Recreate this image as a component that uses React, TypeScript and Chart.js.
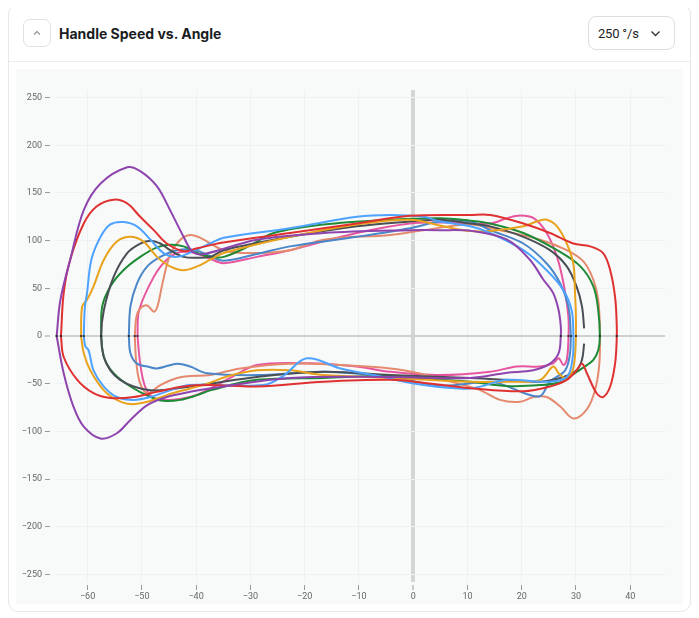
import React, { useEffect, useRef } from 'react';
import Chart from 'chart.js/auto';

type Pt = [number, number];

// tick values shown on the axes
const xTicks = [-60, -50, -40, -30, -20, -10, 0, 10, 20, 30, 40];
const yTicks = [-250, -200, -150, -100, -50, 0, 50, 100, 150, 200, 250];

// angle (deg) vs handle speed (deg/s), one loop per swing
const purple: Pt[] = [
  [-65.7, 0], [-65.0, 38], [-63.2, 80], [-60.7, 132], [-57.6, 160], [-52.7, 177], [-50.3, 173],
  [-47.2, 157], [-44.8, 132], [-42.3, 104], [-40.6, 88], [-38.5, 86], [-28.8, 101], [-16.5, 108],
  [-0.6, 111], [5, 111], [11, 110], [17.3, 101], [21.5, 80], [24, 59], [25.8, 45], [26.8, 27],
  [27.2, 10], [27.2, 0], [26.8, -18], [25.2, -29], [22.1, -36], [17.3, -38.5], [10.5, -44],
  [-4.2, -43], [-22.7, -44], [-37.4, -55], [-41.1, -58.5], [-45.4, -64], [-49, -72.5],
  [-52.1, -88], [-54.6, -102], [-57.6, -107.5], [-60.7, -95], [-62.6, -74], [-64.4, -39], [-65.7, 0],
];

const red: Pt[] = [
  [-64.9, 0], [-64.4, 45], [-63.2, 80], [-60.7, 118], [-58.3, 136], [-55.2, 143], [-52.7, 139],
  [-50.3, 125], [-47.8, 111], [-45.4, 97], [-42.3, 89], [-39.8, 92], [-35, 98], [-22.7, 108],
  [-10.4, 118], [-0.6, 126], [10.5, 127], [14.2, 127], [20.3, 118], [25.2, 108], [29.5, 97],
  [32.6, 94], [35, 87], [36.3, 69], [37.2, 41], [37.5, 13], [37.5, -4], [37.2, -29], [36.3, -53],
  [35, -64], [33.8, -60], [32, -39], [31.1, -29], [30.1, -36], [28.3, -46], [25.2, -53],
  [20.3, -58], [11.1, -55], [1.8, -49], [-4.2, -46], [-16.5, -48], [-28.8, -53], [-37.4, -51.5],
  [-42.3, -53], [-47.2, -58.5], [-51.5, -64], [-55.8, -65], [-58.9, -60], [-61.9, -46],
  [-64.4, -22], [-64.9, 0],
];

const blue: Pt[] = [
  [-60.7, 0], [-60.5, 30], [-60.1, 45], [-59.3, 80], [-57.6, 104], [-55.8, 117], [-53.4, 119.5], [-50.9, 115],
  [-48.4, 101], [-46, 87], [-43.5, 83], [-40.5, 89], [-37.4, 97], [-34.9, 103], [-22.7, 113],
  [-10.4, 125], [-4.2, 127], [1.9, 125], [5, 120], [10.5, 115], [14.2, 108], [20.3, 90],
  [24.6, 69], [27.7, 48], [29.2, 27], [29.5, 3], [29.4, -22], [28.3, -43], [24.6, -48],
  [17.3, -46], [10.5, -55], [1.9, -51.5], [-7.3, -41], [-13.4, -34], [-19.6, -23.4], [-24, -42],
  [-27.6, -51.5], [-41.1, -51.5], [-44.8, -57], [-48.4, -64], [-51.5, -67], [-54.6, -64],
  [-57, -53], [-58.9, -36], [-59.8, -15], [-60.4, -11], [-60.7, 0],
];

const orange: Pt[] = [
  [-61.2, 0], [-61, 31], [-60.1, 38], [-58.9, 52], [-57, 80], [-54.6, 99], [-52.1, 104],
  [-49.7, 99], [-47.2, 83], [-44.8, 73], [-42.3, 69], [-39.8, 73], [-37.4, 80], [-34.9, 87],
  [-22.7, 104], [-10.4, 117], [-0.6, 122], [5.6, 115], [10.5, 110], [14.2, 110], [20.3, 115],
  [22.8, 120], [24.6, 122], [26.5, 115], [28.3, 97], [29.5, 76], [29.8, 48], [30, 13],
  [29.8, -22], [29.2, -39], [28, -44], [26.8, -39], [25.8, -32], [23.4, -46], [17.3, -48],
  [10.5, -48], [-4.2, -44], [-16.5, -41], [-22.7, -36], [-28.8, -36], [-34, -42], [-38, -50],
  [-41.1, -55], [-45.4, -62], [-49, -69], [-52.1, -71.4], [-54.6, -67], [-57, -57], [-59.5, -36],
  [-60.7, -18], [-61.2, 0],
];

const grey: Pt[] = [
  [31.5, -8], [31.1, -25], [30.1, -36], [27.7, -43], [23.4, -48], [17.3, -46], [10.5, -44],
  [-4.2, -41], [-16.5, -37.5], [-28.8, -43], [-37.4, -50], [-41.1, -53], [-44.8, -56],
  [-48.4, -57], [-51.5, -53], [-54, -46], [-55.8, -36], [-57, -22], [-57.5, 0], [-57, 27],
  [-55.2, 62], [-52.7, 87], [-50.3, 97], [-48.4, 100], [-46.6, 97], [-44.8, 90], [-42.3, 83],
  [-39.8, 82], [-37.4, 83], [-34.9, 90], [-22.7, 104], [-10.4, 115], [-0.6, 120], [5, 122],
  [10.5, 118], [14.2, 115], [20.3, 104], [25.2, 90], [28.3, 73], [30.1, 52], [31.1, 31], [31.5, 8],
];

const green: Pt[] = [
  [-57.5, 0], [-57.3, 31], [-55.8, 52], [-53.4, 69], [-50.3, 83], [-47.2, 93], [-44.8, 95.6],
  [-42.3, 94], [-39.8, 87], [-37.4, 83], [-34.9, 83], [-30, 95], [-25.7, 108], [-16.5, 117],
  [-4.2, 122], [5, 123.6], [10.5, 121], [14.2, 118], [20.3, 108], [26.5, 90], [30.8, 73],
  [33.2, 52], [34.1, 27], [34.4, 0], [34.1, -15], [33.2, -25], [32, -30.5], [29.5, -40],
  [27.5, -48], [23.4, -51.5], [17.3, -52.5], [10.5, -48], [5, -46], [-4.2, -42], [-16.5, -44],
  [-28.8, -46], [-37.4, -57], [-39.8, -62], [-42.9, -67], [-46, -68], [-48.4, -64], [-52.1, -53],
  [-55.2, -39], [-57, -22], [-57.5, 0],
];

const steel: Pt[] = [
  [-52.4, 0], [-52.1, 31], [-50.9, 55], [-49, 73], [-46.6, 83], [-43.5, 90], [-40.1, 90],
  [-37.5, 84], [-34.9, 79], [-28.8, 86], [-22.7, 94], [-10.4, 104], [-0.6, 113], [5, 120],
  [10.5, 120], [14.2, 111], [20.3, 97], [24.6, 76], [27.1, 55], [28.6, 31], [29, 6], [28.9, -18],
  [28, -36], [25.2, -48], [23.4, -63], [20.5, -60], [17, -52], [14.2, -48], [5, -52], [-4.2, -43],
  [-16.5, -37.5], [-28.8, -41], [-38, -39], [-41.1, -32], [-43.5, -29], [-47.2, -34], [-49, -32],
  [-50.9, -29], [-52.1, -18], [-52.4, 0],
];

const salmon: Pt[] = [
  [-51.3, 0], [-51, 20], [-50.3, 29], [-49, 32], [-47.8, 25.5], [-47.1, 31.5], [-46.2, 55],
  [-44.8, 85], [-42.9, 101], [-41.1, 106], [-39.2, 103], [-34.9, 90], [-30, 87], [-22.7, 90],
  [-16.5, 101], [-4.2, 106], [1.9, 111], [10.5, 117], [16, 111], [23.4, 101], [28.3, 90],
  [31.4, 78], [33.2, 59], [34.1, 38], [34.4, 6], [34.3, -29], [33.5, -57], [32, -77],
  [29.5, -86.5], [27.1, -74], [24.6, -64], [22.2, -64], [19.7, -69], [16, -67], [12, -56],
  [5, -45], [1.9, -40], [-4.2, -34], [-13.4, -30.5], [-22.7, -29], [-31.9, -34], [-37.4, -41],
  [-41.1, -42], [-43.5, -44], [-46.6, -51.5], [-49, -60], [-50.3, -50], [-51, -29], [-51.3, 0],
];

const pink: Pt[] = [
  [-50.8, 0], [-50.5, 27], [-47.8, 62], [-45.4, 80], [-42.9, 88], [-40.1, 87], [-37.4, 81],
  [-34.9, 76.4], [-28.8, 83], [-22.7, 90], [-10.4, 108], [-0.6, 118], [5.6, 119], [14.2, 118],
  [17.3, 123.6], [19.7, 126.4], [22.2, 123.6], [24.6, 108], [26.5, 83], [27.7, 55], [28.6, 20],
  [28.6, -4], [28.3, -25], [27.7, -30.5], [26.8, -23.4], [25.8, -28.7], [23.4, -32], [19.1, -32],
  [14.2, -37.5], [5, -41], [-4.2, -37.5], [-10.4, -32], [-19.6, -28.7], [-28.8, -30.5],
  [-33.7, -44], [-38, -57], [-41.1, -64], [-44.8, -67], [-47.8, -65], [-49.4, -53], [-50.3, -29],
  [-50.8, 0],
];

// zero-speed crossings (black dots)
const zeroCrossX = [-65.7, -64.9, -61.2, -60.7, -57.5, -52.4, -51.3, -50.8, 27.2, 28.6, 29.1, 30.0, 34.4, 37.5];

const swings = [
  { color: '#8e44ad', points: purple },
  { color: '#e03131', points: red },
  { color: '#4da3ff', points: blue },
  { color: '#e8a21c', points: orange },
  { color: '#4a4f55', points: grey },
  { color: '#1f8a35', points: green },
  { color: '#4a86c8', points: steel },
  { color: '#e48a6e', points: salmon },
  { color: '#e8559f', points: pink },
];

const fmt = (v: number | string) => String(v).replace('-', '\u2212');

const SpeedChart: React.FC = () => {
  const canvasRef = useRef<HTMLCanvasElement>(null);

  useEffect(() => {
    if (!canvasRef.current) return;
    const chart = new Chart(canvasRef.current, {
      type: 'scatter',
      data: {
        datasets: [
          {
            data: zeroCrossX.map((x) => ({ x, y: 0 })),
            showLine: false,
            pointRadius: 1.1,
            pointBackgroundColor: '#222',
            pointBorderWidth: 0,
          },
          ...swings.map((s) => ({
            data: s.points.map(([x, y]) => ({ x, y })),
            showLine: true,
            borderColor: s.color,
            borderWidth: 2,
            pointRadius: 0,
            tension: 0.35,
            fill: false,
          })),
        ],
      },
      options: {
        animation: false,
        responsive: true,
        maintainAspectRatio: false,
        layout: { padding: { top: 21, right: 18, left: 0, bottom: 0 } },
        plugins: { legend: { display: false }, tooltip: { enabled: false } },
        scales: {
          x: {
            type: 'linear',
            min: -66,
            max: 46.4,
            afterBuildTicks: (s: any) => { s.ticks = xTicks.map((value) => ({ value })); },
            afterFit: (s: any) => { s.height = 22; },
            border: { display: false },
            grid: {
              color: (c: any) => (c.tick && c.tick.value === 0 ? '#d4d6d6' : '#eef1f1'),
              lineWidth: (c: any) => (c.tick && c.tick.value === 0 ? 4 : 1),
              tickColor: '#9a9a9a',
              tickWidth: 1,
              tickLength: 8,
              tickBorderDash: [5, 3],
              tickBorderDashOffset: 5,
            },
            ticks: {
              callback: (v: any) => fmt(v),
              font: { size: 9, family: 'Roboto' },
              color: '#666',
              padding: 1,
              maxRotation: 0,
              autoSkip: false,
            },
          },
          y: {
            type: 'linear',
            min: -258,
            max: 258,
            afterBuildTicks: (s: any) => { s.ticks = yTicks.map((value) => ({ value })); },
            afterFit: (s: any) => { s.width = 39; },
            border: { display: false },
            grid: {
              color: (c: any) => (c.tick && c.tick.value === 0 ? '#cfd1d1' : '#eef1f1'),
              lineWidth: (c: any) => (c.tick && c.tick.value === 0 ? 2 : 1),
              tickColor: '#9a9a9a',
              tickWidth: 1,
              tickLength: 10,
              tickBorderDash: [5, 5],
            },
            ticks: {
              callback: (v: any) => fmt(v),
              font: { size: 9, family: 'Roboto' },
              color: '#666',
              padding: 3,
              autoSkip: false,
            },
          },
        },
      },
    });
    return () => chart.destroy();
  }, []);

  return <canvas ref={canvasRef} />;
};

const ChevronUp = () => (
  <svg width="10" height="10" viewBox="0 0 10 10">
    <polyline points="2,6.5 5,3.5 8,6.5" fill="none" stroke="#8a8f94" strokeWidth="1.1" />
  </svg>
);

const ChevronDown = () => (
  <svg width="11" height="11" viewBox="0 0 11 11">
    <polyline points="1.5,3.5 5.5,7.5 9.5,3.5" fill="none" stroke="#333" strokeWidth="1.3" />
  </svg>
);

export default function App() {
  return (
    <div
      style={{
        marginTop: -4,
        width: 683,
        height: 608,
        boxSizing: 'border-box',
        border: '1px solid #e6e9e9',
        borderRadius: 10,
        background: '#fff',
        fontFamily: 'Inter, "Noto Sans", sans-serif',
      }}
    >
      <div
        style={{
          height: 56,
          borderBottom: '1px solid #eceeee',
          display: 'flex',
          alignItems: 'center',
          padding: '0 15px 0 14px',
        }}
      >
        <div
          style={{
            width: 28,
            height: 28,
            boxSizing: 'border-box',
            border: '1px solid #dfe2e2',
            borderRadius: 7,
            display: 'flex',
            alignItems: 'center',
            justifyContent: 'center',
          }}
        >
          <ChevronUp />
        </div>
        <div style={{ marginLeft: 8, fontSize: 14, fontWeight: 700, color: '#1b1d1f' }}>
          Handle Speed vs. Angle
        </div>
        <div style={{ flex: 1 }} />
        <div
          style={{
            width: 87,
            height: 34,
            boxSizing: 'border-box',
            border: '1px solid #dcdfdf',
            borderRadius: 8,
            display: 'flex',
            alignItems: 'center',
            padding: '0 13px 0 9px',
            fontSize: 13,
            fontFamily: 'Roboto, sans-serif',
            letterSpacing: -0.2,
            color: '#222',
          }}
        >
          <span style={{ flex: 1 }}>250 °/s</span>
          <ChevronDown />
        </div>
      </div>
      <div
        style={{
          margin: '7px 7px 0 7px',
          width: 667,
          height: 535,
          background: '#f8fafa',
          borderRadius: 2,
          position: 'relative',
        }}
      >
        <SpeedChart />
      </div>
    </div>
  );
}
